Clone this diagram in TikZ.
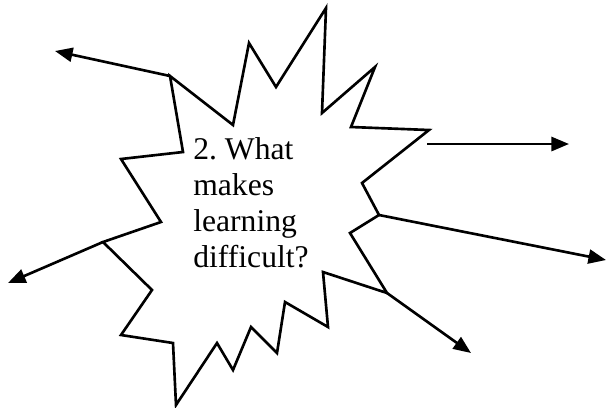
\documentclass[tikz,border=0pt]{standalone}
\usepackage{fontspec}
\setmainfont{Liberation Serif}
\usetikzlibrary{arrows.meta}

\begin{document}
\begin{tikzpicture}[x=0.02cm, y=-0.02cm, >={Triangle[length=10pt, width=8pt]}, line width=1.5pt, line join=miter]
        \useasboundingbox (0,0) rectangle (608,407);

        % The burst: outer points and inner notches, clockwise from top left
        \draw (170,76) coordinate (tl)
            -- (233,125) -- (249,43) -- (276,87) -- (326,8) -- (322,113)
            -- (375,67) -- (351,127) -- (429,130) coordinate (rt)
            -- (362,183) -- (379,215) coordinate (re)
            -- (350,233) -- (387,293) coordinate (br)
            -- (323,272) -- (328,327) -- (285,302) -- (277,353) -- (251,327)
            -- (233,370) -- (217,343) -- (176,405) -- (173,343) -- (121,335)
            -- (152,290) -- (103,242) coordinate (lf)
            -- (161,222) -- (121,159) -- (183,152) -- cycle;

        % Question in the middle
        \node[align=left, anchor=north west, inner sep=0pt, font=\fontsize{18}{20.5}\selectfont] at (192,136) (question) {2.\ What\\makes\\learning\\difficult?};

        % Arrows going out
        \coordinate (rtstart) at (427,144);
        \coordinate (tlend) at (55,51);
        \coordinate (rtend) at (569,144);
        \coordinate (reend) at (606,260);
        \coordinate (brend) at (471,353);
        \coordinate (lfend) at (8,283);
        \draw[->] (tl) -- (tlend);
        \draw[->] (rtstart) -- (rtend);
        \draw[->] (re) -- (reend);
        \draw[->] (br) -- (brend);
        \draw[->] (lf) -- (lfend);

    \end{tikzpicture}
\end{document}
